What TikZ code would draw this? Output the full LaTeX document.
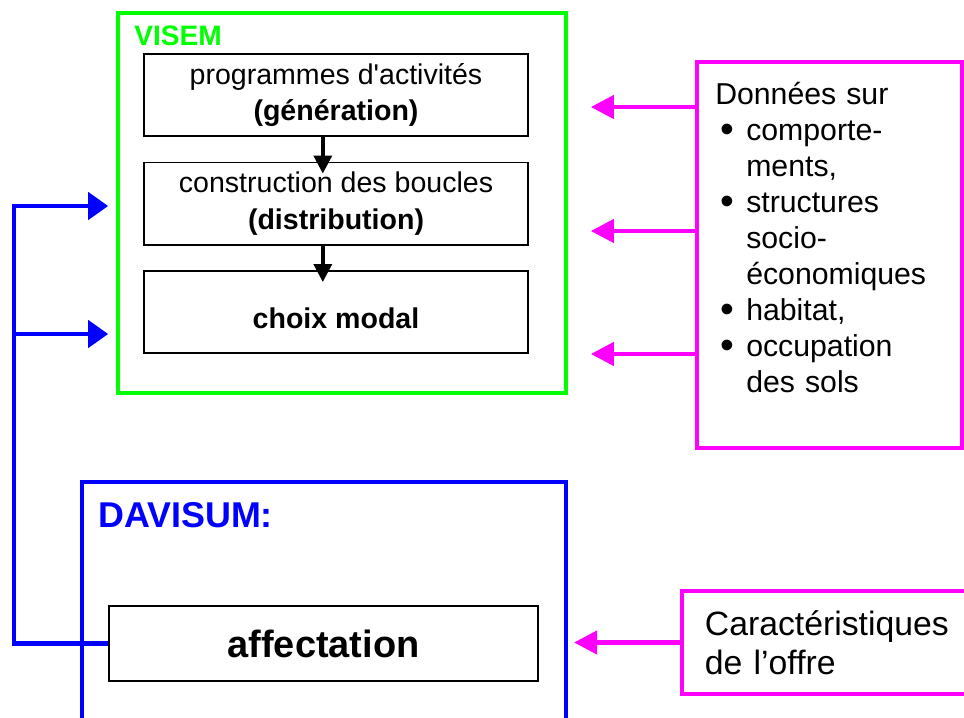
\documentclass[tikz,border=0pt]{standalone}
\usepackage{fontspec}
\newfontfamily\arialfont{Liberation Sans}
\usetikzlibrary{arrows.meta}

\definecolor{vgreen}{RGB}{0,255,0}
\definecolor{vblue}{RGB}{0,0,255}
\definecolor{vmagenta}{RGB}{255,0,255}

\newcommand\listbullet{\hspace*{0.12cm}\makebox[0.655cm][l]{\raisebox{-0.06em}{\scalebox{1.3}{\textbullet}}}}
\newcommand\listindent{\hspace*{0.775cm}}

\tikzset{
  stage/.style={draw, line width=1.4pt, minimum width=9.6cm, minimum height=2.05cm,
    align=center, inner sep=0pt, font=\fontsize{20.3}{26}\selectfont},
  darr/.style={line width=2.5pt, -{Triangle[length=0.45cm,width=0.45cm]}, shorten >=-0.3cm},
  barr/.style={vblue, line width=3.2pt, -{Triangle[length=0.5cm,width=0.675cm]}, shorten >=0.2cm},
  marr/.style={vmagenta, line width=3pt, -{Triangle[length=0.575cm,width=0.575cm]}, shorten >=0.575cm},
}

\begin{document}
\arialfont
\begin{tikzpicture}[x=0.025cm, y=-0.025cm]
  \useasboundingbox (0,0) rectangle (964,717);
  \clip (0,0) rectangle (964,717);

  \node[draw=vgreen, line width=2.5pt, minimum width=11.2cm, minimum height=9.5cm] (visem) at (342,203) {};
  \node[anchor=base west, inner sep=0pt, vgreen, font=\fontsize{20}{24}\selectfont\bfseries] (visemlbl) at (134,45) {VISEM};
  \node[stage] (gen) at (336,95) {programmes d'activités\\\textbf{(génération)}};
  \node[stage] (dist) at (336,203.5) {construction des boucles\\\textbf{(distribution)}};
  \node[stage, text height=0.8cm, text depth=0pt] (modal) at (336,312) {\textbf{choix modal}};

  \node[draw=vmagenta, line width=2.5pt, minimum width=6.625cm, minimum height=9.65cm] (donnees) at (829.5,255) {};
  \node[anchor=north west, inner sep=0pt, text width=6cm, align=left, font=\fontsize{21.5}{25.6}\selectfont] (donneestxt) at (715,82)
    {Données sur\\
     \listbullet comporte-\\
     \listindent ments,\\
     \listbullet structures\\
     \listindent socio-\\
     \listindent économiques\\
     \listbullet habitat,\\
     \listbullet occupation\\
     \listindent des sols};

  \node[draw=vblue, line width=2.8pt, minimum width=12.1cm, minimum height=6.45cm] (davisum) at (324,611) {};
  \node[anchor=base west, inner sep=0pt, vblue, font=\fontsize{25.5}{30}\selectfont\bfseries] (davlbl) at (98,527) {DAVISUM:};
  \node[draw, line width=1.4pt, minimum width=10.725cm, minimum height=1.875cm, font=\fontsize{27}{30}\selectfont\bfseries] (affect) at (323.5,643.5) {affectation};

  \node[draw=vmagenta, line width=2.5pt, minimum width=7.95cm, minimum height=2.575cm, text width=6.8cm, inner xsep=0.575cm,
    align=left, font=\fontsize{24}{27.5}\selectfont] (offre) at (841,642.5) {Caractéristiques\\de l’offre};

  \coordinate (fbtop) at (14,206);
  \coordinate (fbmid) at (14,334);

  \draw[darr] ([xshift=-0.33cm]gen.south) -- ([xshift=-0.33cm]dist.north);
  \draw[darr] ([xshift=-0.33cm]dist.south) -- ([xshift=-0.33cm]modal.north);

  \draw[barr] (affect.west) -| (fbtop) -- (fbtop -| visem.west);
  \draw[barr] (fbmid) -- (fbmid -| visem.west);

  \foreach \y in {107,231,354}
    \draw[marr] (donnees.west |- 0,\y) -- (visem.east |- 0,\y);
  \draw[marr, shorten >=0.875cm] (offre.west) -- (offre.west -| affect.east);
\end{tikzpicture}
\end{document}
